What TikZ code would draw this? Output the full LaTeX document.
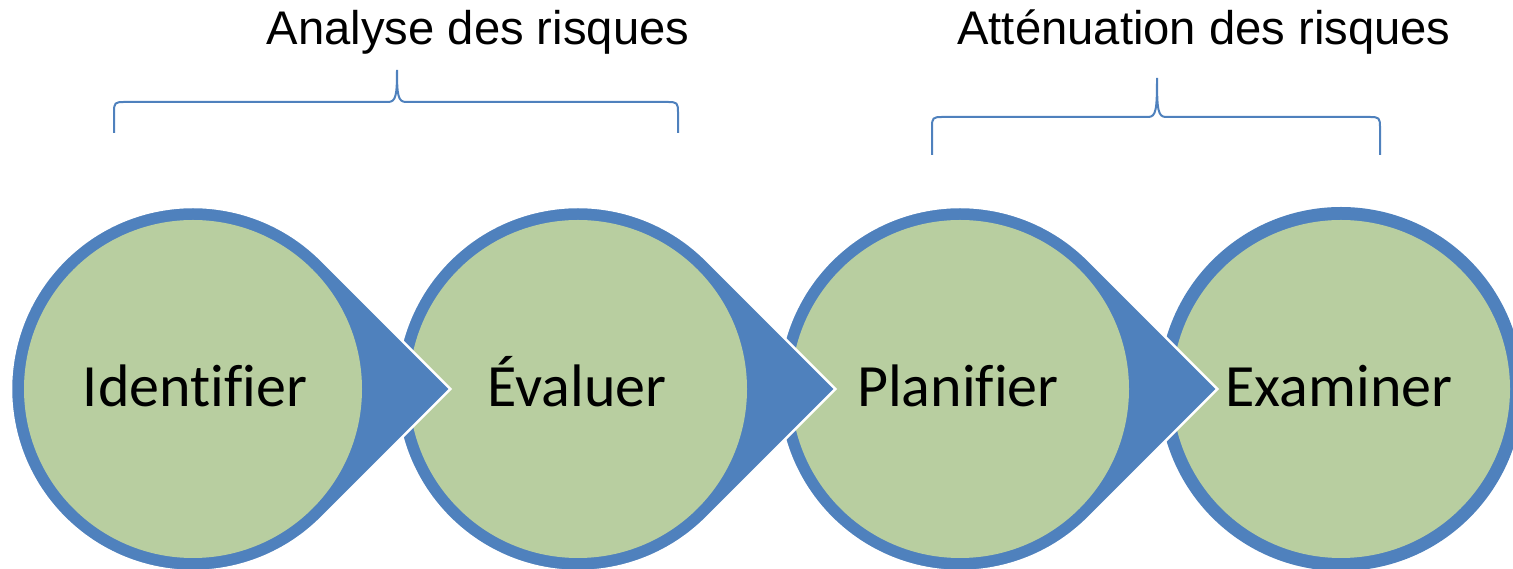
\documentclass[tikz,border=0pt]{standalone}
\usepackage{fontspec}
\setmainfont{Carlito}[Ligatures=NoCommon]
\newfontfamily\arialf{Liberation Sans}
\usetikzlibrary{calc}
\definecolor{ringblue}{RGB}{79,129,189}
\definecolor{fillgreen}{RGB}{184,206,160}
\begin{document}
\begin{tikzpicture}[x=1pt,y=1pt,
  tear/.style={fill=ringblue, draw=white, line width=2.5pt, line join=miter},
  disc/.style={fill=fillgreen},
  lbl/.style={font=\fontsize{60}{60}\selectfont, anchor=base, inner sep=0pt},
  hdr/.style={font=\arialf\fontsize{47.2}{47.2}\selectfont, anchor=base, inner sep=0pt},
  bracestyle/.style={draw=ringblue, line width=2pt}]
\useasboundingbox (0,0) rectangle (1513,569);
\coordinate (c1) at (193,180);
\coordinate (c2) at (578,180);
\coordinate (c3) at (960,180);
\coordinate (c4) at (1341,180);
% circle 4
\fill[ringblue] (c4) circle (182);
\fill[fillgreen] (c4) circle (169);
% circles 3,2,1 with tips
\foreach \c in {c3,c2,c1}{
  \path[tear] ($(\c)+(257.4,0)$) -- ($(\c)+(45:182)$) arc[start angle=45,end angle=315,radius=182] -- cycle;
  \fill[fillgreen] (\c) circle (169);
}
\node[lbl] (t1) at (195,162) {Identifier};
\node[lbl] (t2) at (577,162) {Évaluer};
\node[lbl] (t3) at (958,162) {Planifier};
\node[lbl] (t4) at (1339,162) {Examiner};
% headers
\node[hdr] (h1) at (478,524) {Analyse des risques};
\node[hdr] (h2) at (1204,524) {Atténuation des risques};
% braces
\draw[bracestyle] (114,436) -- (114,457) .. controls (114,466) and (115,467) .. (124,467) -- (388,467)
  .. controls (396,467) and (397,474) .. (397,499)
  .. controls (397,474) and (398,467) .. (406,467) -- (668,467)
  .. controls (677,467) and (678,466) .. (678,457) -- (678,436);
\draw[bracestyle] (932,414) -- (932,442) .. controls (932,451) and (933,452) .. (942,452) -- (1148,452)
  .. controls (1156,452) and (1157,459) .. (1157,491)
  .. controls (1157,459) and (1158,452) .. (1166,452) -- (1370,452)
  .. controls (1379,452) and (1380,451) .. (1380,442) -- (1380,414);
\end{tikzpicture}
\end{document}
